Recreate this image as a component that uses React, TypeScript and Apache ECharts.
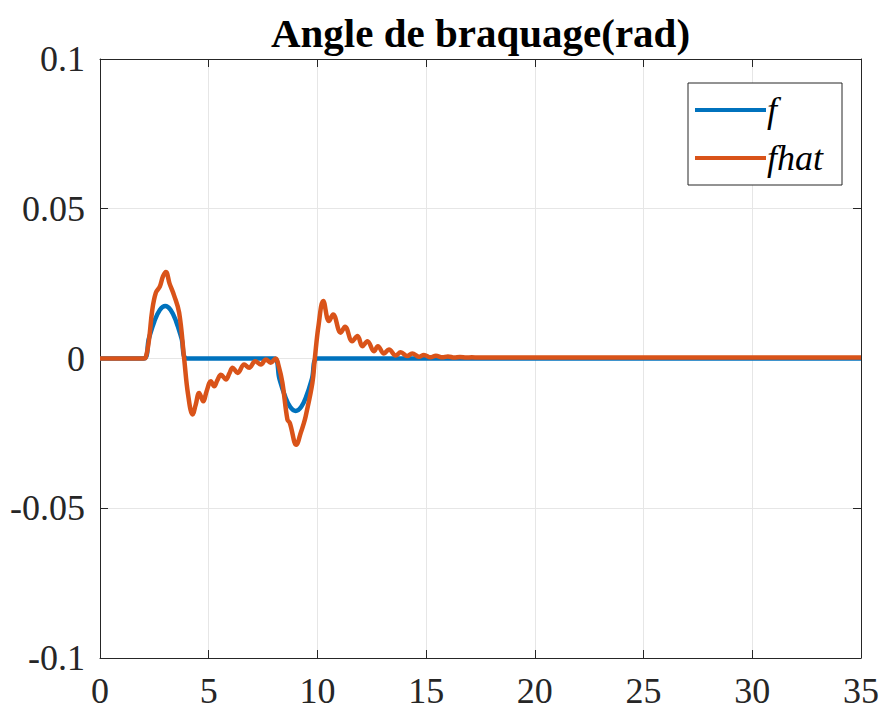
import React, { useEffect, useRef } from "react";
import * as echarts from "echarts";

const titleText = "Angle de braquage(rad)";
const seriesNames = ["f", "fhat"];
const xTicks = [0, 5, 10, 15, 20, 25, 30, 35];
const yTicks = [-0.1, -0.05, 0, 0.05, 0.1];

const fX = [0, 2.0, 2.25, 2.5, 2.75, 3.0, 3.25, 3.5, 3.75, 4.0, 8.0, 8.25, 8.5, 8.75, 9.0, 9.25, 9.5, 9.75, 10.0, 35];
const fY = [0, 0, 0.0067, 0.0124, 0.0162, 0.0175, 0.0162, 0.0124, 0.0067, 0, 0, -0.0067, -0.0124, -0.0162, -0.0175, -0.0162, -0.0124, -0.0067, 0, 0];

const fhatX = [
  0, 2.0, 2.1, 2.25, 2.4, 2.57, 2.75, 2.9, 3.03, 3.2, 3.41, 3.64, 3.87, 4.05, 4.26,
  4.4, 4.56, 4.75, 4.9, 5.1, 5.25, 5.4, 5.56, 5.79, 5.95, 6.1, 6.33, 6.63, 6.86,
  7.14, 7.4, 7.63, 7.85, 8.08, 8.2, 8.39, 8.62, 8.73, 9.03, 9.23, 9.38, 9.46, 9.77,
  9.88, 10.05, 10.27, 10.53, 10.72, 11.07, 11.27, 11.6, 11.84, 12.07, 12.3, 12.6,
  12.78, 13.06, 13.29, 13.6, 13.83, 14.13, 14.36, 14.67, 14.9, 15.2, 15.45, 15.75,
  16.0, 16.3, 16.55, 16.85, 17.1, 17.4, 17.7, 18.2, 19.0, 20.0, 35,
];
const fhatY = [
  0, 0, 0.0003, 0.006, 0.016, 0.022, 0.024, 0.0275, 0.0289, 0.025, 0.021, 0.0153, 0, -0.012, -0.0187,
  -0.0155, -0.0115, -0.0143, -0.011, -0.0076, -0.0093, -0.0072, -0.0054, -0.007, -0.005, -0.0031, -0.0048, -0.002, -0.0031,
  -0.0009, -0.002, -0.0003, -0.0014, 0, -0.002, -0.0081, -0.0204, -0.0215, -0.0288, -0.0249, -0.0215, -0.0193, -0.0081,
  0, 0.011, 0.0192, 0.0125, 0.0147, 0.0086, 0.0106, 0.0058, 0.0075, 0.0041, 0.0058, 0.0024,
  0.0041, 0.0017, 0.003, 0.001, 0.0021, 0.0008, 0.0017, 0.0006, 0.0012, 0.0004, 0.0009, 0.0004,
  0.0007, 0.0003, 0.0005, 0.0003, 0.0004, 0.0003, 0.0003, 0.0003, 0.0003, 0.0003, 0.0003,
];

const FONT = "'Liberation Serif', 'Times New Roman', serif";
const AXIS = "#262626";
const GRIDC = "#e6e6e6";

export default function App() {
  const ref = useRef<HTMLDivElement>(null);
  useEffect(() => {
    if (!ref.current) return;
    const chart = echarts.init(ref.current, undefined, { renderer: "svg" });
    const xmin = xTicks[0];
    const xmax = xTicks[xTicks.length - 1];
    const ymin = yTicks[0];
    const ymax = yTicks[yTicks.length - 1];
    const baseX = {
      type: "value" as const,
      min: xmin,
      max: xmax,
      interval: 5,
    };
    const baseY = {
      type: "value" as const,
      min: ymin,
      max: ymax,
      interval: 0.05,
    };
    chart.setOption({
      animation: false,
      backgroundColor: "#ffffff",
      grid: { left: 100, right: 24, top: 59, bottom: 53, show: false },
      graphic: [
        {
          type: "text",
          x: 480.5,
          y: 33,
          style: {
            text: titleText,
            fontFamily: FONT,
            fontWeight: "bold",
            fontSize: 41,
            fill: "#000",
            textAlign: "center",
            textVerticalAlign: "middle",
          },
        },
      ],
      legend: {
        orient: "vertical",
        left: 688,
        top: 83,
        padding: [3, 19, 3, 7],
        itemGap: 0,
        itemWidth: 71,
        itemHeight: 4,
        icon: "rect",
        backgroundColor: "#ffffff",
        borderColor: AXIS,
        borderWidth: 1,
        borderRadius: 0,
        data: seriesNames,
        textStyle: {
          fontFamily: FONT,
          fontStyle: "italic",
          fontSize: 36,
          lineHeight: 48,
          color: "#000",
          padding: [0, 0, 0, -4],
        },
      },
      xAxis: [
        {
          ...baseX,
          position: "bottom",
          axisLine: { show: true, onZero: false, lineStyle: { color: AXIS, width: 1 } },
          axisTick: { show: true, inside: true, length: 8, lineStyle: { color: AXIS } },
          axisLabel: { fontFamily: FONT, fontSize: 36, color: AXIS, margin: 15 },
          splitLine: { show: true, lineStyle: { color: GRIDC, width: 1 } },
        },
        {
          ...baseX,
          position: "top",
          axisLine: { show: true, onZero: false, lineStyle: { color: AXIS, width: 1 } },
          axisTick: { show: true, inside: true, length: 8, lineStyle: { color: AXIS } },
          axisLabel: { show: false },
          splitLine: { show: false },
        },
      ],
      yAxis: [
        {
          ...baseY,
          position: "left",
          axisLine: { show: true, onZero: false, lineStyle: { color: AXIS, width: 1 } },
          axisTick: { show: true, inside: true, length: 8, lineStyle: { color: AXIS } },
          axisLabel: { fontFamily: FONT, fontSize: 36, color: AXIS, margin: 15 },
          splitLine: { show: true, lineStyle: { color: GRIDC, width: 1 } },
        },
        {
          ...baseY,
          position: "right",
          axisLine: { show: true, onZero: false, lineStyle: { color: AXIS, width: 1 } },
          axisTick: { show: true, inside: true, length: 8, lineStyle: { color: AXIS } },
          axisLabel: { show: false },
          splitLine: { show: false },
        },
      ],
      series: [
        {
          name: seriesNames[0],
          type: "line",
          xAxisIndex: 0,
          yAxisIndex: 0,
          data: fX.map((x, i) => [x, fY[i]]),
          showSymbol: false,
          symbol: "none",
          smooth: 0.4,
          lineStyle: { color: "#0072BD", width: 4.5 },
          itemStyle: { color: "#0072BD" },
          z: 2,
        },
        {
          name: seriesNames[1],
          type: "line",
          xAxisIndex: 0,
          yAxisIndex: 0,
          data: fhatX.map((x, i) => [x, fhatY[i]]),
          showSymbol: false,
          symbol: "none",
          smooth: 0.4,
          lineStyle: { color: "#D95319", width: 4.5 },
          itemStyle: { color: "#D95319" },
          z: 3,
        },
      ],
    });
    return () => chart.dispose();
  }, []);
  return (
    <div
      ref={ref}
      style={{ position: "fixed", left: 0, top: 0, width: 885, height: 711, background: "#fff" }}
    />
  );
}
